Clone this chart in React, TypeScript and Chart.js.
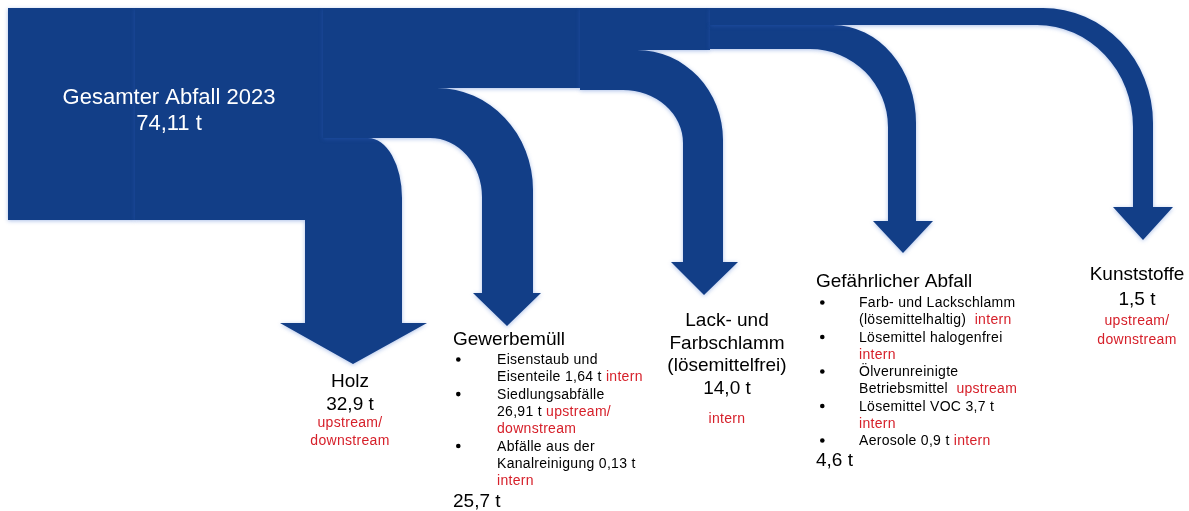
import React, { useEffect, useRef } from 'react';
import { Chart, registerables } from 'chart.js';

Chart.register(...registerables);

// ---------------- data ----------------
const TOTAL_LABEL = 'Gesamter Abfall 2023';
const TOTAL_VALUE = 74.11;
const CATEGORIES = ['Holz', 'Gewerbemüll', 'Lack- und\nFarbschlamm\n(lösemittelfrei)', 'Gefährlicher Abfall', 'Kunststoffe'];
const VALUES = [32.9, 25.7, 14.0, 4.6, 1.5];
const ROUTES = ['upstream/\ndownstream', '', 'intern', '', 'upstream/\ndownstream'];

type Seg = [string, boolean];
// sub-items: each item is a list of lines, each line a list of [text, isRoute] segments
const GEWERBE_ITEMS: Seg[][][] = [
  [[['Eisenstaub und', false]], [['Eisenteile 1,64 t ', false], ['intern', true]]],
  [[['Siedlungsabfälle', false]], [['26,91 t ', false], ['upstream/', true]], [['downstream', true]]],
  [[['Abfälle aus der', false]], [['Kanalreinigung 0,13 t', false]], [['intern', true]]],
];
const GEFAHR_ITEMS: Seg[][][] = [
  [[['Farb- und Lackschlamm', false]], [['(lösemittelhaltig)  ', false], ['intern', true]]],
  [[['Lösemittel halogenfrei', false]], [['intern', true]]],
  [[['Ölverunreinigte', false]], [['Betriebsmittel  ', false], ['upstream', true]]],
  [[['Lösemittel VOC 3,7 t', false]], [['intern', true]]],
  [[['Aerosole 0,9 t ', false], ['intern', true]]],
];

// ---------------- layout / style ----------------
const W = 1189;
const H = 511;
const BLUE = '#123E87';
const HALO = 'rgba(50,100,200,0.4)';
const RED = '#D6202A';
const FONT = '"Liberation Sans", Arial, sans-serif';
const TOP_ALL = 8;

const SOURCE = { x0: 8, x1: 135, y0: 8, y1: 220 };

// geometry per category (page units)
const FLOWS = [
  { x0: 135, bundleEnd: 323, top: 138, bot: 220, ocx: 368, ocy: 198, R: 402, icx: null, icy: null, L: 305, base: 323, wl: 280, wr: 427, tx: 353, ty: 364 },
  { x0: 323, bundleEnd: 580, top: 88, bot: 138, ocx: 437, ocy: 190, R: 533, icx: 430, icy: 197, L: 482, base: 293, wl: 473, wr: 541, tx: 507, ty: 326 },
  { x0: 580, bundleEnd: 710, top: 50, bot: 90, ocx: 637, ocy: 140, R: 723, icx: 623, icy: 143, L: 683, base: 262, wl: 671, wr: 738, tx: 704, ty: 295 },
  { x0: 710, bundleEnd: 710, top: 25, bot: 49, ocx: 833, ocy: 123, R: 916, icx: 810, icy: 127, L: 888, base: 221, wl: 873, wr: 933, tx: 903, ty: 253 },
  { x0: 710, bundleEnd: 710, top: 8, bot: 25, ocx: 1043, ocy: 123, R: 1153, icx: 1037, icy: 127, L: 1133, base: 207, wl: 1113, wr: 1173, tx: 1143, ty: 240 },
];

// label placement per category
const LABELS = [
  { kind: 'center', x: 350, titleY: 387, step: 23, valueY: 410, routeY: 427, routeStep: 18 },
  { kind: 'list', x: 453, titleY: 345, bulletX: 456, textX: 497, firstY: 364, step: 17.3, valueY: 507 },
  { kind: 'center', x: 727, titleY: 326, step: 22.5, valueY: 394, routeY: 423, routeStep: 18 },
  { kind: 'list', x: 816, titleY: 287, bulletX: 820, textX: 859, firstY: 307, step: 17.25, valueY: 466 },
  { kind: 'center', x: 1137, titleY: 280, step: 23, valueY: 305, routeY: 325, routeStep: 18.5 },
];
const TOTAL_POS = { x: 169, y1: 104, y2: 130 };

const fmt = (v: number, d: number) => v.toFixed(d).replace('.', ',') + ' t';

const flowPlugin = {
  id: 'flows',
  afterDraw(chart: any) {
    const ctx: CanvasRenderingContext2D = chart.ctx;
    const xs = chart.scales.x;
    const ys = chart.scales.y;
    const X = (v: number) => xs.getPixelForValue(v);
    const Y = (v: number) => ys.getPixelForValue(v);

    ctx.save();
    ctx.fillStyle = BLUE;
    ctx.shadowColor = HALO;
    ctx.shadowBlur = 4;
    ctx.shadowOffsetY = 1;

    ctx.fillRect(X(SOURCE.x0), Y(SOURCE.y0), X(SOURCE.x1) - X(SOURCE.x0), Y(SOURCE.y1) - Y(SOURCE.y0));

    FLOWS.forEach((f) => {
      ctx.beginPath();
      ctx.moveTo(X(f.x0), Y(TOP_ALL));
      ctx.lineTo(X(f.bundleEnd), Y(TOP_ALL));
      ctx.lineTo(X(f.bundleEnd), Y(f.top));
      ctx.lineTo(X(f.ocx), Y(f.top));
      ctx.ellipse(X(f.ocx), Y(f.ocy), X(f.R) - X(f.ocx), Y(f.ocy) - Y(f.top), 0, -Math.PI / 2, 0, false);
      ctx.lineTo(X(f.R), Y(f.base));
      ctx.lineTo(X(f.wr), Y(f.base));
      ctx.lineTo(X(f.tx), Y(f.ty));
      ctx.lineTo(X(f.wl), Y(f.base));
      ctx.lineTo(X(f.L), Y(f.base));
      if (f.icx !== null && f.icy !== null) {
        ctx.lineTo(X(f.L), Y(f.icy));
        ctx.ellipse(X(f.icx), Y(f.icy), X(f.L) - X(f.icx), Y(f.icy) - Y(f.bot), 0, 0, -Math.PI / 2, true);
      } else {
        ctx.lineTo(X(f.L), Y(f.bot));
      }
      ctx.lineTo(X(f.x0), Y(f.bot));
      ctx.closePath();
      ctx.fill();
    });
    ctx.restore();

    // ---- texts ----
    ctx.save();
    ctx.textBaseline = 'alphabetic';
    (ctx as any).letterSpacing = '0px';

    // total
    ctx.fillStyle = '#FFFFFF';
    ctx.font = `22px ${FONT}`;
    ctx.textAlign = 'center';
    ctx.fillText(TOTAL_LABEL, X(TOTAL_POS.x), Y(TOTAL_POS.y1));
    ctx.fillText(fmt(TOTAL_VALUE, 2), X(TOTAL_POS.x), Y(TOTAL_POS.y2));

    const titleFont = `19px ${FONT}`;
    const smallFont = `14px ${FONT}`;

    CATEGORIES.forEach((cat, i) => {
      const lb: any = LABELS[i];
      if (lb.kind === 'center') {
        ctx.textAlign = 'center';
        ctx.fillStyle = '#000000';
        ctx.font = titleFont;
        (ctx as any).letterSpacing = '0px';
        cat.split('\n').forEach((line, k) => ctx.fillText(line, X(lb.x), Y(lb.titleY + k * lb.step)));
        ctx.fillText(fmt(VALUES[i], 1), X(lb.x), Y(lb.valueY));
        ctx.fillStyle = RED;
        ctx.font = smallFont;
        (ctx as any).letterSpacing = '0.3px';
        ROUTES[i].split('\n').forEach((line, k) => ctx.fillText(line, X(lb.x), Y(lb.routeY + k * lb.routeStep)));
      } else {
        const items = i === 1 ? GEWERBE_ITEMS : GEFAHR_ITEMS;
        ctx.textAlign = 'left';
        ctx.fillStyle = '#000000';
        ctx.font = titleFont;
        (ctx as any).letterSpacing = '0px';
        ctx.fillText(cat, X(lb.x), Y(lb.titleY));
        ctx.fillText(fmt(VALUES[i], 1), X(lb.x), Y(lb.valueY));
        ctx.font = smallFont;
        (ctx as any).letterSpacing = '0.3px';
        let row = 0;
        items.forEach((item) => {
          ctx.fillStyle = '#000000';
          const by = Y(lb.firstY + row * lb.step);
          ctx.beginPath();
          ctx.arc(X(lb.bulletX) + 2.3, by - 4.5, 2.3, 0, Math.PI * 2);
          ctx.fill();
          item.forEach((line) => {
            let px = X(lb.textX);
            const py = Y(lb.firstY + row * lb.step);
            line.forEach(([txt, isRoute]) => {
              ctx.fillStyle = isRoute ? RED : '#000000';
              ctx.fillText(txt, px, py);
              px += ctx.measureText(txt).width;
            });
            row += 1;
          });
        });
      }
    });
    ctx.restore();
  },
};

export default function App() {
  const ref = useRef<HTMLCanvasElement | null>(null);
  useEffect(() => {
    if (!ref.current) return;
    const chart = new Chart(ref.current, {
      type: 'scatter',
      data: { datasets: [{ data: [] }] },
      options: {
        animation: false,
        responsive: true,
        maintainAspectRatio: false,
        layout: { padding: 0 },
        events: [],
        scales: {
          x: { type: 'linear', min: 0, max: W, display: false },
          y: { type: 'linear', min: 0, max: H, reverse: true, display: false },
        },
        plugins: { legend: { display: false }, tooltip: { enabled: false } },
      },
      plugins: [flowPlugin as any],
    });
    return () => chart.destroy();
  }, []);
  return (
    <div style={{ position: 'fixed', left: 0, top: 0, width: W, height: H, background: '#FFFFFF' }}>
      <canvas ref={ref} />
    </div>
  );
}
